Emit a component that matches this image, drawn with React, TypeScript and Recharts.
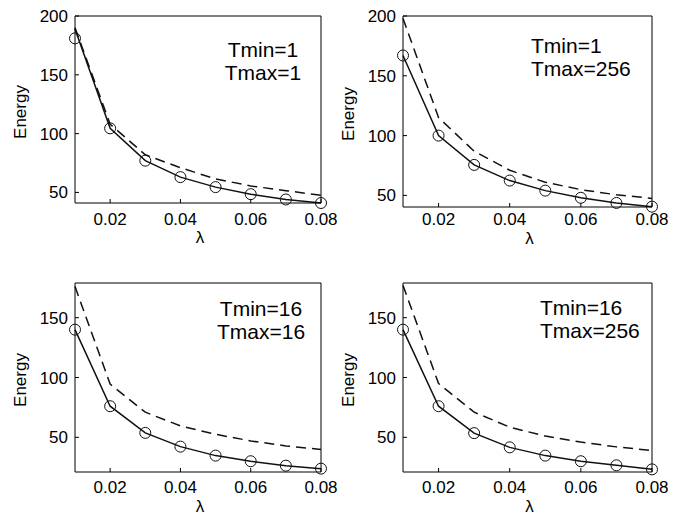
import { Line, LineChart, XAxis, YAxis } from 'recharts'

const lambdas = [0.01, 0.02, 0.03, 0.04, 0.05, 0.06, 0.07, 0.08]
const lambdaTicks = [0.02, 0.04, 0.06, 0.08]
const topTicks = [50, 100, 150, 200]
const bottomTicks = [50, 100, 150]

// panel 1: Tmin=1, Tmax=1
const circles1 = [181, 104.5, 77, 63, 54.5, 48.5, 44, 41]
const solid1 = [189, 104.5, 77, 63, 54.5, 48.5, 44, 41]
const dashed1 = [190, 108, 82, 71, 61.5, 55.5, 51.5, 47.5]

// panel 2: Tmin=1, Tmax=256
const circles2 = [167, 100, 75.5, 62.4, 54, 48, 43.7, 40.6]
const solid2 = [167, 100, 75.5, 62.4, 54, 48, 43.7, 40.6]
const dashed2 = [198, 115, 87, 71, 61, 54.8, 50.5, 47.5]

// panel 3: Tmin=16, Tmax=16
const circles3 = [140, 76, 53.7, 42.2, 34.7, 30, 26.3, 23.8]
const solid3 = [140, 76, 53.7, 42.2, 34.7, 30, 26.3, 23.8]
const dashed3 = [176, 94.5, 71, 59.5, 52.5, 47, 42.8, 39.8]

// panel 4: Tmin=16, Tmax=256
const circles4 = [140, 76, 53.5, 41.6, 34.7, 30, 26.6, 23.2]
const solid4 = [140, 76, 53.5, 41.6, 34.7, 30, 26.6, 23.2]
const dashed4 = [177, 95, 71, 58.5, 51, 46, 42, 39]

const font = '"Liberation Sans", Arial, sans-serif'

type PanelProps = {
  slot: [number, number, number, number]
  plot: [number, number, number, number]
  circles: number[]
  solid: number[]
  dashed: number[]
  yDomain: [number, number]
  yTicks: number[]
  lines: string[]
  textX: number
  textY: number
  centered: boolean
  xTickGap: number
  lambdaY: number
}

function Panel({ slot, plot, circles, solid, dashed, yDomain, yTicks, lines, textX, textY, centered, xTickGap, lambdaY }: PanelProps) {
  const [sx, sy, sw, sh] = slot
  const [pl, pt, pr, pb] = plot
  const data = lambdas.map((x, i) => ({ lambda: x, circles: circles[i], solid: solid[i], dashed: dashed[i] }))
  const axisStyle = { stroke: '#000', strokeWidth: 1 }
  const tickStyle = { fill: '#000', fontSize: 17, fontFamily: font }

  return (
    <div style={{ position: 'absolute', left: sx, top: sy, width: sw, height: sh }}>
      <LineChart
        width={sw}
        height={sh}
        data={data}
        margin={{ top: pt - sy - 1, left: 0, right: sx + sw - pr - 1, bottom: sy + sh - pb - 30 }}
      >
        <XAxis
          dataKey='lambda'
          type='number'
          domain={[0.01, 0.08]}
          ticks={lambdaTicks}
          height={30}
          tickSize={-4}
          tickMargin={xTickGap}
          axisLine={axisStyle}
          tickLine={axisStyle}
          tick={tickStyle}
        />
        <XAxis
          xAxisId='top'
          orientation='top'
          type='number'
          domain={[0.01, 0.08]}
          ticks={lambdaTicks}
          height={1}
          tickSize={-4}
          tick={false}
          axisLine={axisStyle}
          tickLine={axisStyle}
        />
        <YAxis
          type='number'
          domain={yDomain}
          ticks={yTicks}
          width={pl - sx}
          tickSize={-4}
          tickMargin={11}
          axisLine={axisStyle}
          tickLine={axisStyle}
          tick={tickStyle}
        />
        <YAxis
          yAxisId='right'
          orientation='right'
          type='number'
          domain={yDomain}
          ticks={yTicks}
          width={1}
          tickSize={-4}
          tick={false}
          axisLine={axisStyle}
          tickLine={axisStyle}
        />
        <Line
          dataKey='dashed'
          stroke='#111'
          strokeWidth={1.5}
          strokeDasharray='10 6'
          dot={false}
          isAnimationActive={false}
        />
        <Line dataKey='solid' stroke='#111' strokeWidth={1.5} dot={false} isAnimationActive={false} />
        <Line
          dataKey='circles'
          stroke='none'
          dot={{ r: 5.5, stroke: '#111', strokeWidth: 1, fill: 'none' }}
          isAnimationActive={false}
        />
      </LineChart>
      <div
        style={{
          position: 'absolute',
          left: centered ? textX - sx - 60 : textX - sx,
          width: centered ? 120 : 140,
          top: textY - sy,
          fontFamily: font,
          fontSize: 21,
          lineHeight: '23px',
          textAlign: centered ? 'center' : 'left',
          color: '#000',
        }}
      >
        {lines.map((l) => (
          <div key={l}>{l}</div>
        ))}
      </div>
      <div
        style={{
          position: 'absolute',
          left: pl - sx - 54 - 30,
          top: (pt + pb) / 2 - sy - 8,
          width: 60,
          height: 20,
          lineHeight: '20px',
          textAlign: 'center',
          transform: 'rotate(-90deg)',
          fontFamily: font,
          fontSize: 17,
          color: '#000',
        }}
      >
        Energy
      </div>
      <div
        style={{
          position: 'absolute',
          left: (pl + pr) / 2 - sx - 18,
          top: lambdaY - sy - 10,
          width: 40,
          height: 20,
          textAlign: 'center',
          fontFamily: font,
          fontSize: 17,
          lineHeight: '20px',
          color: '#000',
        }}
      >
        λ
      </div>
    </div>
  )
}

export default function App() {
  return (
    <div style={{ position: 'absolute', left: 0, top: 0, width: 694, height: 521, background: '#fff' }}>
      <Panel
        slot={[0, 0, 347, 260]}
        plot={[75, 16, 321, 203]}
        circles={circles1}
        solid={solid1}
        dashed={dashed1}
        yDomain={[41, 200]}
        yTicks={topTicks}
        lines={['Tmin=1', 'Tmax=1']}
        textX={263}
        textY={38}
        centered
        xTickGap={14}
        lambdaY={238}
      />
      <Panel
        slot={[347, 0, 347, 260]}
        plot={[403, 16, 652, 207]}
        circles={circles2}
        solid={solid2}
        dashed={dashed2}
        yDomain={[40.3, 200]}
        yTicks={topTicks}
        lines={['Tmin=1', 'Tmax=256']}
        textX={531}
        textY={34}
        centered={false}
        xTickGap={10}
        lambdaY={239}
      />
      <Panel
        slot={[0, 260, 347, 261]}
        plot={[75, 283, 321, 472]}
        circles={circles3}
        solid={solid3}
        dashed={dashed3}
        yDomain={[21, 179]}
        yTicks={bottomTicks}
        lines={['Tmin=16', 'Tmax=16']}
        textX={261}
        textY={297}
        centered
        xTickGap={13}
        lambdaY={507}
      />
      <Panel
        slot={[347, 260, 347, 261]}
        plot={[403, 283, 652, 472]}
        circles={circles4}
        solid={solid4}
        dashed={dashed4}
        yDomain={[21, 179]}
        yTicks={bottomTicks}
        lines={['Tmin=16', 'Tmax=256']}
        textX={540}
        textY={296}
        centered={false}
        xTickGap={13}
        lambdaY={507}
      />
    </div>
  )
}
